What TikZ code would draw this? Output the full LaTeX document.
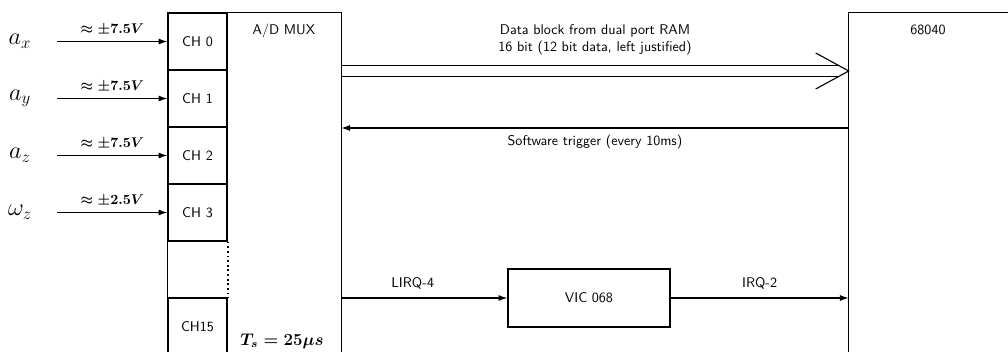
\documentclass[tikz,border=0pt]{standalone}
\usepackage{tikz}
\usetikzlibrary{arrows.meta, positioning, calc}

\begin{document}
\begin{tikzpicture}[
    chbox/.style={draw, line width=0.9pt, minimum width=1.475cm, minimum height=1.425cm,
                  inner sep=0pt, font=\sffamily},
    unit/.style={minimum height=8.55cm, inner sep=0pt},
    sig/.style={line width=0.8pt, -{Latex[length=2.2mm, width=1.5mm]}},
    inlabel/.style={minimum width=1.85cm, inner sep=0pt, font=\LARGE},
    volt/.style={above=0.5pt, font=\boldmath},
    sflabel/.style={font=\sffamily}
]
    % Page frame
    \clip (0,0) rectangle (25.2,8.775);

    % Input channels
    \node[chbox] (ch0) at (4.9375,7.7375) {CH 0};
    \node[chbox] (ch1) at (4.9375,6.3125) {CH 1};
    \node[chbox] (ch2) at (4.9375,4.8875) {CH 2};
    \node[chbox] (ch3) at (4.9375,3.4625) {CH 3};
    \node[chbox] (ch15) at (4.9375,0.6125) {CH15};
    \draw[line width=0.9pt] (ch3.south west) -- (ch15.north west);
    \draw[line width=1.3pt, dotted] (ch3.south east) -- (ch15.north east);

    % Multiplexer
    \node[unit, minimum width=2.85cm] (mux) at (7.1,4.175) {};
    \draw[line width=0.9pt] (mux.north west) -- (mux.north east) -- (mux.south east);
    \node[sflabel, below=4.5pt of mux.north] (muxlbl) {A/D MUX};
    \node[font=\large\boldmath] (ts) at (7.05,0.25) {$T_s = 25\mu s$};

    % Processor
    \node[unit, minimum width=5cm] (cpu) at (23.725,4.175) {};
    \draw[line width=0.9pt] (cpu.south west) -- (cpu.north west) -- (cpu.north east);
    \node[sflabel] (cpulbl) at (23.2,8.03) {68040};

    % Sensor inputs
    \node[inlabel] (ax) at (0.5,7.7375) {$a_x$};
    \node[inlabel] (ay) at (0.5,6.3125) {$a_y$};
    \node[inlabel] (az) at (0.5,4.8875) {$a_z$};
    \node[inlabel] (wz) at (0.5,3.4625) {$\omega_z$};
    \draw[sig] (ax) -- (ch0) node[volt, midway] {$\approx \pm 7.5V$};
    \draw[sig] (ay) -- (ch1) node[volt, midway] {$\approx \pm 7.5V$};
    \draw[sig] (az) -- (ch2) node[volt, midway] {$\approx \pm 7.5V$};
    \draw[sig] (wz) -- (ch3) node[volt, midway] {$\approx \pm 2.5V$};

    % Data block (double arrow)
    \coordinate (dtip) at (cpu.west |- 0,7.0);
    \coordinate (dtail) at (mux.east |- dtip);
    \draw[line width=0.8pt] ($(dtail)+(0,0.1375)$) -- ($(dtip)+(-0.25,0.1375)$);
    \draw[line width=0.8pt] ($(dtail)+(0,-0.1375)$) -- ($(dtip)+(-0.25,-0.1375)$);
    \draw[line width=0.8pt] ($(dtip)+(-0.825,0.45)$) -- (dtip) -- ($(dtip)+(-0.825,-0.45)$);
    \node[sflabel, align=center] (datalbl) at ($(dtail)!0.5!(dtip)+(0,0.78)$)
        {Data block from dual port RAM\\[-0.5pt] 16 bit (12 bit data, left justified)};

    % Trigger
    \coordinate (trig) at (cpu.west |- 0,5.575);
    \draw[sig] (trig) -- (mux.east |- trig)
        node[sflabel, midway, below=1pt] {Software trigger (every 10ms)};

    % Interrupt path
    \node[draw, line width=0.9pt, minimum width=4.05cm, minimum height=1.45cm, sflabel] (vic) at (14.725,1.325) {VIC 068};
    \draw[sig] (mux.east |- vic.west) -- (vic.west) node[sflabel, pos=0.43, above=2.5pt] {LIRQ-4};
    \draw[sig] (vic.east) -- (cpu.west |- vic.east) node[sflabel, midway, above=2.5pt] {IRQ-2};
\end{tikzpicture}
\end{document}
